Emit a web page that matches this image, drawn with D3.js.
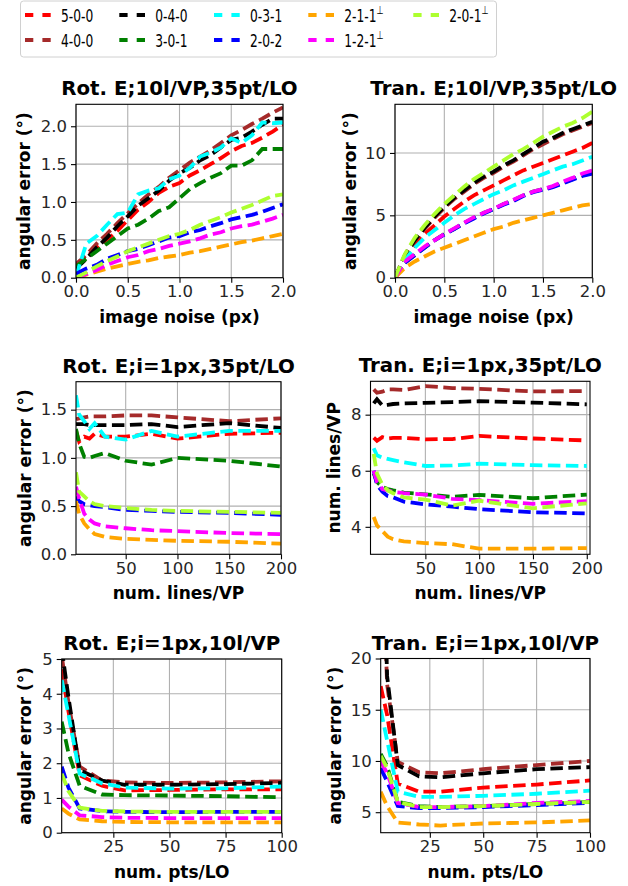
<!DOCTYPE html>
<html><head><meta charset="utf-8">
<script src="https://cdn.jsdelivr.net/npm/d3@7"></script>
<style>
html,body{margin:0;padding:0;background:#fff;}
svg{display:block;font-family:"DejaVu Sans",sans-serif;}
</style></head>
<body>
<svg id="chart" width="628" height="886"></svg>
<script>
// ---------------- DATA ----------------
const seriesNames = ["5-0-0","4-0-0","0-4-0","3-0-1","0-3-1","2-0-2","2-1-1","1-2-1","2-0-1"];
const seriesPerp  = [false,false,false,false,false,false,true,true,true];
const seriesColors = ["#ff0000","#a52a2a","#000000","#008000","#00ffff","#0000ff","#ffa500","#ff00ff","#adff2f"];

const xNoise = [0,0.1,0.2,0.3,0.4,0.5,0.6,0.7,0.8,0.9,1.0,1.1,1.2,1.3,1.4,1.5,1.6,1.7,1.8,1.9,2.0];
const xLines = [2,5,10,15,20,30,50,75,100,150,200];
const xPts   = [2,5,10,20,30,50,75,100];

// order: 5-0-0, 4-0-0, 0-4-0, 3-0-1, 0-3-1, 2-0-2, 2-1-1⊥, 1-2-1⊥, 2-0-1⊥
const rotNoise = [
  [0.15,0.27,0.4,0.5,0.62,0.76,0.9,1.0,1.12,1.2,1.25,1.35,1.42,1.5,1.58,1.67,1.74,1.78,1.85,1.93,2.02],
  [0.18,0.3,0.45,0.58,0.72,0.85,0.98,1.1,1.2,1.32,1.42,1.52,1.6,1.68,1.78,1.88,1.95,2.03,2.1,2.18,2.25],
  [0.12,0.25,0.4,0.53,0.68,0.81,0.95,1.05,1.15,1.28,1.38,1.45,1.55,1.62,1.72,1.82,1.85,1.93,2.02,2.1,2.1],
  [0.15,0.25,0.35,0.45,0.55,0.65,0.7,0.78,0.88,0.93,1.05,1.17,1.25,1.32,1.38,1.48,1.48,1.55,1.7,1.7,1.7],
  [0.02,0.45,0.55,0.7,0.84,0.86,1.1,1.15,1.18,1.3,1.35,1.45,1.6,1.65,1.72,1.84,1.78,1.88,2.05,2.04,2.05],
  [0.05,0.12,0.17,0.25,0.3,0.35,0.38,0.43,0.48,0.53,0.55,0.6,0.63,0.68,0.72,0.77,0.8,0.83,0.87,0.92,0.97],
  [0,0.04,0.08,0.12,0.15,0.18,0.21,0.23,0.26,0.28,0.3,0.33,0.35,0.38,0.41,0.44,0.47,0.49,0.52,0.55,0.58],
  [0,0.05,0.1,0.17,0.22,0.27,0.3,0.35,0.38,0.42,0.45,0.48,0.52,0.57,0.6,0.65,0.68,0.7,0.74,0.78,0.83],
  [0,0.07,0.15,0.22,0.28,0.35,0.4,0.45,0.5,0.55,0.58,0.63,0.7,0.75,0.8,0.86,0.91,0.96,1.02,1.08,1.1]
];
const tranNoise = [
  [0,1.6,2.6,3.5,4.2,4.9,5.5,6.1,6.6,7.0,7.4,7.8,8.2,8.6,8.9,9.2,9.5,9.8,10.1,10.4,10.8],
  [0,1.75,2.9,3.9,4.8,5.6,6.3,6.9,7.5,8.0,8.4,8.9,9.3,9.8,10.3,10.7,11.1,11.5,11.8,12.1,12.4],
  [0,1.8,3.0,4.0,4.9,5.7,6.4,7.0,7.6,8.1,8.5,9.0,9.4,9.9,10.4,10.9,11.2,11.6,11.9,12.2,12.5],
  [0,1.2,1.8,2.4,3.0,3.5,3.9,4.4,4.8,5.2,5.5,5.9,6.2,6.6,6.9,7.1,7.3,7.6,7.9,8.2,8.4],
  [0,1.4,2.4,3.2,3.8,4.4,5.0,5.5,5.9,6.3,6.7,7.0,7.4,7.7,8.0,8.3,8.6,8.9,9.1,9.4,9.7],
  [0,1.2,1.8,2.4,3.0,3.45,3.9,4.35,4.75,5.15,5.5,5.85,6.15,6.55,6.85,7.05,7.25,7.55,7.85,8.15,8.35],
  [0,0.8,1.3,1.7,2.1,2.4,2.7,3.0,3.3,3.6,3.9,4.1,4.4,4.6,4.8,5.0,5.2,5.4,5.6,5.8,5.9],
  [0,1.3,1.9,2.5,3.0,3.5,3.95,4.4,4.85,5.2,5.55,5.9,6.25,6.6,6.9,7.1,7.35,7.7,8.0,8.35,8.6],
  [0,1.9,3.2,4.2,5.1,5.9,6.6,7.3,7.9,8.4,8.9,9.4,9.9,10.3,10.8,11.3,11.7,12.1,12.4,12.8,13.3]
];
const rotLines = [
  [1.28,1.17,1.22,1.2,1.25,1.22,1.22,1.25,1.2,1.25,1.26],
  [1.4,1.41,1.42,1.43,1.43,1.43,1.44,1.44,1.42,1.38,1.41],
  [1.35,1.35,1.35,1.34,1.34,1.34,1.34,1.35,1.32,1.36,1.31],
  [1.3,1.15,1.01,1.0,1.02,1.05,0.97,0.93,1.0,0.97,0.91],
  [1.65,1.45,1.38,1.3,1.36,1.22,1.19,1.28,1.22,1.28,1.28],
  [0.6,0.55,0.52,0.51,0.5,0.49,0.46,0.45,0.44,0.43,0.41],
  [0.55,0.42,0.32,0.26,0.21,0.18,0.16,0.15,0.14,0.13,0.11],
  [0.7,0.58,0.42,0.36,0.32,0.29,0.27,0.25,0.24,0.22,0.21],
  [0.85,0.65,0.6,0.55,0.52,0.5,0.48,0.46,0.45,0.44,0.43]
];
const tranLines = [
  [7.18,7.07,7.2,7.15,7.17,7.17,7.12,7.13,7.24,7.15,7.08],
  [8.9,8.78,8.82,8.9,8.9,8.88,9.02,8.95,8.92,8.83,8.84],
  [8.4,8.55,8.33,8.35,8.38,8.4,8.42,8.45,8.48,8.43,8.37],
  [5.9,5.6,5.42,5.35,5.3,5.22,5.16,5.07,5.14,5.02,5.15],
  [6.8,6.55,6.47,6.42,6.38,6.3,6.17,6.19,6.25,6.2,6.17],
  [6.0,5.5,5.25,5.1,5.05,4.9,4.8,4.72,4.63,4.52,4.48],
  [4.35,4.05,3.85,3.65,3.56,3.48,3.42,3.38,3.22,3.22,3.24],
  [6.0,5.6,5.35,5.3,5.25,5.2,5.15,5.0,4.95,4.82,4.92],
  [6.6,5.9,5.5,5.3,5.2,5.05,4.97,4.76,4.93,4.66,4.84]
];
const rotPts = [
  [4.7,3.5,1.65,1.35,1.22,1.23,1.25,1.25],
  [5.1,3.75,1.9,1.5,1.45,1.43,1.45,1.48],
  [5.3,3.9,1.8,1.5,1.38,1.38,1.4,1.43],
  [3.2,2.3,1.35,1.1,1.08,1.07,1.05,1.02],
  [4.4,3.4,1.7,1.42,1.3,1.27,1.28,1.33],
  [1.9,1.3,0.7,0.62,0.6,0.59,0.6,0.6],
  [0.7,0.55,0.38,0.33,0.31,0.3,0.3,0.3],
  [0.95,0.75,0.5,0.45,0.43,0.42,0.42,0.42],
  [1.7,1.2,0.72,0.63,0.61,0.6,0.6,0.6]
];
const tranPts = [
  [17.3,14.5,7.8,7.0,7.0,7.4,7.7,8.1],
  [35,17.5,9.9,8.9,8.8,9.2,9.6,10.0],
  [40,18.3,9.6,8.5,8.4,8.8,9.2,9.4],
  [10.7,9.5,6.0,5.6,5.5,5.6,5.8,6.0],
  [15.0,12.0,7.0,6.5,6.5,6.6,6.8,7.1],
  [9.3,8.0,5.6,5.4,5.4,5.5,5.7,5.9],
  [7.0,5.6,4.0,3.8,3.7,3.9,4.0,4.2],
  [10.0,8.8,5.9,5.5,5.5,5.6,5.9,6.1],
  [10.5,9.3,6.0,5.5,5.5,5.6,5.8,6.0]
];

const ticksNoiseX = [0,0.5,1.0,1.5,2.0];
const ticksLinesX = [50,100,150,200];
const ticksPtsX   = [25,50,75,100];
const ticksRotNoiseY  = [0,0.5,1.0,1.5,2.0];
const ticksTranNoiseY = [0,5,10];
const ticksRotLinesY  = [0,0.5,1.0,1.5];
const ticksTranLinesY = [4,6,8];
const ticksRotPtsY    = [0,1,2,3,4,5];
const ticksTranPtsY   = [5,10,15,20];

// ---------------- DRAW ----------------
const svg = d3.select("#chart");
const f1 = d3.format(".1f"), f0 = d3.format("d");

function panel(o){
  const g = svg.append("g");
  const x = d3.scaleLinear().domain(o.xDomain).range([o.l, o.r]);
  const y = d3.scaleLinear().domain(o.yDomain).range([o.b, o.t]);
  const id = "clip" + o.id;
  svg.append("clipPath").attr("id", id).append("rect")
    .attr("x", o.l).attr("y", o.t).attr("width", o.r - o.l).attr("height", o.b - o.t);
  // grid
  g.selectAll(".gx").data(o.xTicks).enter().append("line")
    .attr("x1", d => x(d)).attr("x2", d => x(d)).attr("y1", o.t).attr("y2", o.b)
    .attr("stroke", "#b0b0b0").attr("stroke-width", 1.1);
  g.selectAll(".gy").data(o.yTicks).enter().append("line")
    .attr("y1", d => y(d)).attr("y2", d => y(d)).attr("x1", o.l).attr("x2", o.r)
    .attr("stroke", "#b0b0b0").attr("stroke-width", 1.1);
  // lines
  const lg = g.append("g").attr("clip-path", `url(#${id})`);
  o.ys.forEach((vals, i) => {
    const pts = vals.map((v, k) => [o.x[k], v]);
    lg.append("path").datum(pts)
      .attr("d", d3.line().x(d => x(d[0])).y(d => y(d[1])))
      .attr("fill", "none").attr("stroke", seriesColors[i])
      .attr("stroke-width", 3.8).attr("stroke-dasharray", "12.5,5.5");
  });
  // axes
  const ax = g.append("g").attr("transform", `translate(0,${o.b})`)
    .call(d3.axisBottom(x).tickValues(o.xTicks).tickFormat(o.fx).tickSize(5).tickPadding(3));
  const ay = g.append("g").attr("transform", `translate(${o.l},0)`)
    .call(d3.axisLeft(y).tickValues(o.yTicks).tickFormat(o.fy).tickSize(5).tickPadding(4));
  [ax, ay].forEach(a => {
    a.select(".domain").remove();
    a.selectAll("text").attr("font-size", 16.5).attr("fill", "#262626").attr("font-family", "DejaVu Sans");
    a.selectAll("line").attr("stroke", "#000").attr("stroke-width", 1.1);
  });
  // spines
  g.append("rect").attr("x", o.l).attr("y", o.t).attr("width", o.r - o.l).attr("height", o.b - o.t)
    .attr("fill", "none").attr("stroke", "#000").attr("stroke-width", 1.1);
  // title & labels
  g.append("text").attr("x", (o.l + o.r) / 2).attr("y", o.t - 9).attr("text-anchor", "middle")
    .attr("font-size", 19.8).attr("font-weight", "bold").text(o.title);
  g.append("text").attr("x", (o.l + o.r) / 2).attr("y", o.b + 45).attr("text-anchor", "middle")
    .attr("font-size", 17).attr("font-weight", "bold").text(o.xlabel);
  g.append("text").attr("transform", `translate(${o.ylx},${(o.t + o.b) / 2}) rotate(-90)`)
    .attr("text-anchor", "middle").attr("dominant-baseline", "central")
    .attr("font-size", 17).attr("font-weight", "bold").text(o.ylabel);
}

panel({id:1, l:76, r:283, t:104.3, b:277.7, xDomain:[0,2], yDomain:[0,2.29], x:xNoise, ys:rotNoise,
  xTicks:ticksNoiseX, yTicks:ticksRotNoiseY, fx:f1, fy:f1,
  title:"Rot. E;10l/VP,35pt/LO", xlabel:"image noise (px)", ylabel:"angular error (°)", ylx:24});
panel({id:2, l:395, r:592.3, t:104.3, b:277.7, xDomain:[0,2], yDomain:[0,13.9], x:xNoise, ys:tranNoise,
  xTicks:ticksNoiseX, yTicks:ticksTranNoiseY, fx:f1, fy:f0,
  title:"Tran. E;10l/VP,35pt/LO", xlabel:"image noise (px)", ylabel:"angular error (°)", ylx:350});
panel({id:3, l:76, r:281, t:381.7, b:554.3, xDomain:[2,200], yDomain:[0,1.79], x:xLines, ys:rotLines,
  xTicks:ticksLinesX, yTicks:ticksRotLinesY, fx:f0, fy:f1,
  title:"Rot. E;i=1px,35pt/LO", xlabel:"num. lines/VP", ylabel:"angular error (°)", ylx:25});
panel({id:4, l:370.5, r:590, t:381.3, b:554.3, xDomain:[-1,203], yDomain:[3.02,9.19], x:xLines, ys:tranLines,
  xTicks:ticksLinesX, yTicks:ticksTranLinesY, fx:f0, fy:f0,
  title:"Tran. E;i=1px,35pt/LO", xlabel:"num. lines/VP", ylabel:"num. lines/VP", ylx:334});
panel({id:5, l:61.7, r:281.7, t:659, b:832.7, xDomain:[2,100], yDomain:[0,5], x:xPts, ys:rotPts,
  xTicks:ticksPtsX, yTicks:ticksRotPtsY, fx:f0, fy:f0,
  title:"Rot. E;i=1px,10l/VP", xlabel:"num. pts/LO", ylabel:"angular error (°)", ylx:25});
panel({id:6, l:380.7, r:590, t:658.5, b:832.7, xDomain:[2,100], yDomain:[3,20], x:xPts, ys:tranPts,
  xTicks:ticksPtsX, yTicks:ticksTranPtsY, fx:f0, fy:f0,
  title:"Tran. E;i=1px,10l/VP", xlabel:"num. pts/LO", ylabel:"angular error (°)", ylx:335});

// ---------------- LEGEND ----------------
const leg = svg.append("g");
leg.append("rect").attr("x", 20.5).attr("y", 1).attr("width", 476).attr("height", 56)
  .attr("rx", 3).attr("fill", "#fff").attr("stroke", "#d0d0d0").attr("stroke-width", 1);
const colX = [25, 119.3, 214, 308.3, 413.3];
const rowY = [15, 40];
seriesNames.forEach((name, i) => {
  const c = Math.floor(i / 2), r = i % 2;
  const hx = colX[c], hy = rowY[r];
  leg.append("line").attr("x1", hx).attr("x2", hx + 25.7).attr("y1", hy).attr("y2", hy)
    .attr("stroke", seriesColors[i]).attr("stroke-width", 3.8).attr("stroke-dasharray", "8.3,9.1");
  const t = leg.append("text").attr("transform", `translate(${hx + 36},${hy + 6.8}) scale(0.7,1)`)
    .attr("font-size", 17.5).attr("fill", "#000");
  t.append("tspan").text(name);
  if (seriesPerp[i]) t.append("tspan").attr("font-size", 11.5).attr("dy", -7.5).text("⊥");
});
</script>
</body></html>
